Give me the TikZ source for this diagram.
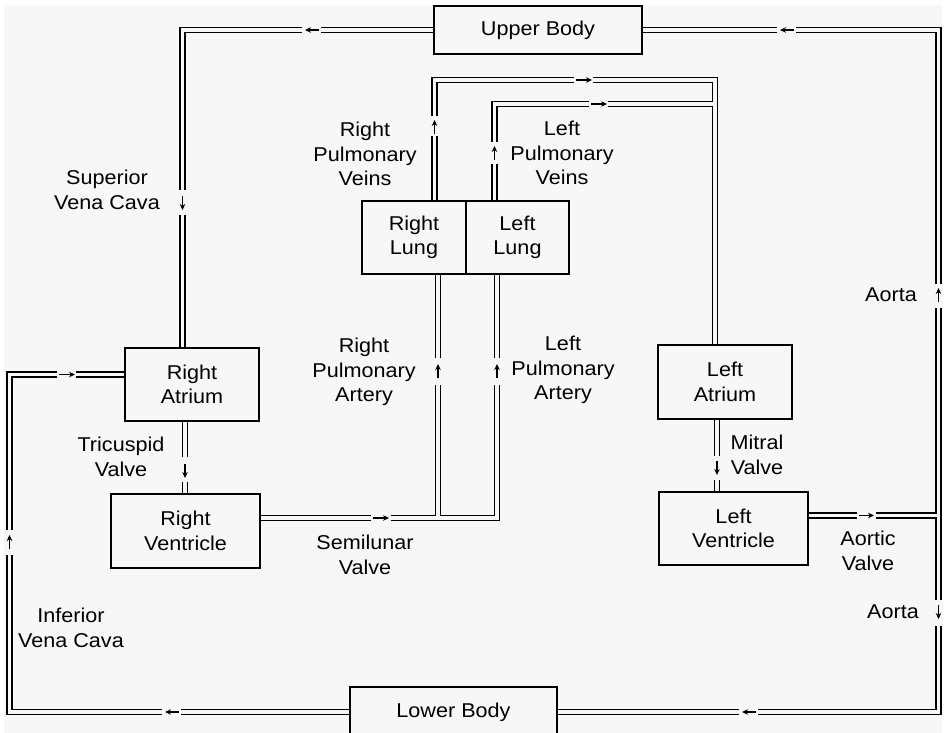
\documentclass[tikz,border=0pt]{standalone}
\usepackage{fontspec}
\setmainfont{Liberation Sans}[FakeStretch=1.08]
\usetikzlibrary{arrows.meta}
\definecolor{paperc}{HTML}{F7F7F7}
\pgfdeclarelayer{paper}
\pgfdeclarelayer{back}
\pgfsetlayers{paper,back,main}
\tikzset{
  box/.style={draw=black, line width=1.2pt, fill=paperc, inner sep=0pt, outer sep=0pt,
              align=center, font=\fontsize{20}{24.5}\selectfont},
  lbl/.style={inner sep=0pt, align=center, font=\fontsize{20}{24.5}\selectfont},
  vout/.style={draw=black, line width=6.3pt},
  vin/.style={draw=paperc, line width=3.7pt},
  flow/.style={line width=1.1pt, -{Stealth[length=6pt,width=5.5pt]}},
}
\newcommand\vesselpaths[1]{%
  % superior vena cava
  \draw[#1] (ub.west) -- (svc) -- (svc |- ra.north);
  % aorta up / down
  \draw[#1] (ub.east) -- (aoT) -- (aoB) -- (lb.east);
  \draw[#1] (lv.east |- aoJ) -- (aoJ);
  % inferior vena cava
  \draw[#1] (ra.west |- ivT) -- (ivT) -- (ivB) -- (lb.west);
  % valves
  \draw[#1] (ra.south -| tv) -- (rv.north -| tv);
  \draw[#1] (la.south -| mv) -- (lv.north -| mv);
  % pulmonary arteries
  \draw[#1] (rv.east |- paR) -- (paR) -- (paR |- rl.south);
  \draw[#1] (paR) -- (paL) -- (paL |- ll.south);
  % pulmonary veins
  \draw[#1] (pvR |- rl.north) -- (pvR) -- (pvC) -- (pvC |- la.north);
  \draw[#1] (pvL |- ll.north) -- (pvL) -- (pvD);
}
\newcommand\vflow[5]{%
  \fill[paperc] (#1-4,#2) rectangle (#1+4,#3);
  \draw[flow] (#1,#4) -- (#1,#5);}
\newcommand\hflow[5]{%
  \fill[paperc] (#2,#1-4) rectangle (#3,#1+4);
  \draw[flow] (#4,#1) -- (#5,#1);}
\begin{document}
\begin{tikzpicture}[x=1pt,y=-1pt]
\useasboundingbox (0,0) rectangle (946,733);
\begin{pgfonlayer}{paper}
  \fill[white] (0,0) rectangle (946,733);
  \fill[paperc] (4,5) rectangle (942,733);
\end{pgfonlayer}

% boxes
\node[box, minimum width=208pt, minimum height=48pt] (ub) at (538,30) {Upper Body};
\node[box, minimum width=104pt, minimum height=73pt] (rl) at (414,237.5) {Right\\Lung};
\node[box, minimum width=103pt, minimum height=73pt] (ll) at (517.5,237.5) {Left\\Lung};
\node[box, minimum width=134pt, minimum height=73pt] (ra) at (192,384.5) {Right\\Atrium};
\node[box, minimum width=149pt, minimum height=74pt] (rv) at (185.5,531) {Right\\Ventricle};
\node[box, minimum width=134pt, minimum height=74pt] (la) at (725,382) {Left\\Atrium};
\node[box, minimum width=149pt, minimum height=73pt] (lv) at (733.5,528.5) {Left\\Ventricle};
\node[box, minimum width=207pt, minimum height=50pt] (lb) at (453.5,712) {Lower Body};

% vessel corner points
\coordinate (svc) at (182.5,30);
\coordinate (aoT) at (938.5,30);
\coordinate (aoB) at (938.5,712);
\coordinate (aoJ) at (938.5,515.5);
\coordinate (ivT) at (9.5,374.5);
\coordinate (ivB) at (9.5,712);
\coordinate (tv) at (185,0);
\coordinate (mv) at (717,0);
\coordinate (paR) at (438,518);
\coordinate (paL) at (497,518);
\coordinate (pvR) at (434.5,80);
\coordinate (pvC) at (715,80);
\coordinate (pvL) at (494.5,104);
\coordinate (pvD) at (715,104);

\begin{pgfonlayer}{back}
  \vesselpaths{vout}
  \vesselpaths{vin}
\end{pgfonlayer}

% labels
\node[lbl] (l1) at (107,190) {Superior\\Vena Cava};
\node[lbl] (l2) at (365,154) {Right\\Pulmonary\\Veins};
\node[lbl] (l3) at (562,153) {Left\\Pulmonary\\Veins};
\node[lbl] (l4) at (364,372) {Right\\Pulmonary\\Artery};
\node[lbl] (l5) at (563,370) {Left\\Pulmonary\\Artery};
\node[lbl] (l6) at (121,457) {Tricuspid\\Valve};
\node[lbl] (l7) at (365,555) {Semilunar\\Valve};
\node[lbl] (l8) at (71,628) {Inferior\\Vena Cava};
\node[lbl] (l9) at (757,455) {Mitral\\Valve};
\node[lbl] (l10) at (868,551) {Aortic\\Valve};
\node[lbl] (l11) at (891,295) {Aorta};
\node[lbl] (l12) at (893,612) {Aorta};

% flow arrows (vertical)
\vflow{182.5}{190}{215}{196}{210}
\vflow{434.5}{116}{136}{134}{120}
\vflow{494.5}{142}{164}{160}{146}
\vflow{438}{358}{385}{378}{364}
\vflow{497}{358}{385}{378}{364}
\vflow{185}{457}{482}{464}{478}
\vflow{717}{456}{480}{461}{475}
\vflow{938.5}{284}{308}{302}{288}
\vflow{938.5}{600}{626}{605}{619}
\vflow{9.5}{530}{555}{549}{535}
% flow arrows (horizontal)
\hflow{30}{302}{321}{319}{305}
\hflow{30}{777}{796}{794}{780}
\hflow{518}{371}{391}{373}{389}
\hflow{515.5}{857}{876}{859}{874}
\hflow{712}{739}{758}{756}{742}
\hflow{712}{162}{181}{179}{165}
\hflow{374.5}{57}{76}{59}{75}
\hflow{80}{574}{593}{576}{592}
\hflow{104}{589}{608}{591}{607}
\end{tikzpicture}
\end{document}
